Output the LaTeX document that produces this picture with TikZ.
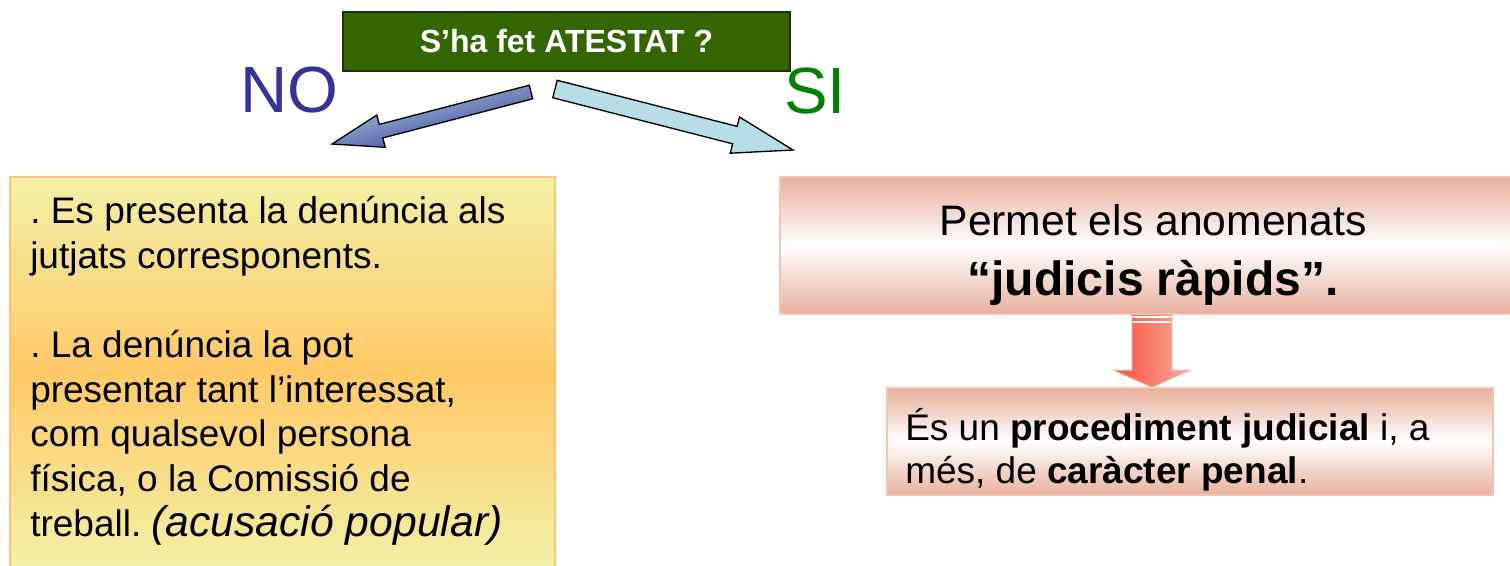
\documentclass[tikz,border=0pt]{standalone}
\usepackage{fontspec}
\setmainfont{Liberation Sans}
\usepackage{xcolor}
\usepackage{tikz}
\usetikzlibrary{calc}
\definecolor{qgreen}{HTML}{336600}
\definecolor{qedge}{HTML}{1F2E0F}
\definecolor{noblue}{HTML}{333399}
\definecolor{sigreen}{HTML}{008000}
\definecolor{pale}{HTML}{F3F0A7}
\definecolor{amber}{HTML}{FFC966}
\definecolor{amberedge}{HTML}{F9C47A}
\definecolor{salmon}{HTML}{E9B09D}
\definecolor{salmonedge}{HTML}{F2C4B4}
\definecolor{ice}{HTML}{B7DEE8}
\definecolor{navy}{HTML}{2E3192}
\definecolor{redhot}{HTML}{FF4D3A}
\definecolor{redsoft}{HTML}{F4B09E}
\tikzset{
  qbox/.style={draw=qedge, line width=1pt, fill=qgreen, text=white, inner sep=0pt,
    minimum width=335.25pt, minimum height=44.25pt, font=\fontsize{24}{28}\selectfont\bfseries},
  nobox/.style={draw=amberedge, line width=0.8pt, top color=pale, bottom color=pale, middle color=amber,
    minimum width=408.75pt, minimum height=292.5pt, inner sep=0pt},
  sibox/.style={draw=salmonedge, line width=0.8pt, top color=salmon, bottom color=salmon, middle color=white,
    inner sep=0pt},
  answer/.style={font=\fontsize{49}{56}\selectfont, inner sep=0pt},
  body/.style={font=\fontsize{27.75}{33.5}\selectfont, align=left, inner sep=0pt, anchor=north west},
  arrowno/.style={draw=black, line width=1pt, line join=miter, top color=ice, bottom color=navy, shading angle=15},
  arrowsi/.style={draw=black, line width=1pt, line join=miter, fill=ice},
  arrowdown/.style={draw=salmonedge, line width=0.6pt, left color=redhot, right color=redsoft},
}
% fat arrow: style, tail, tip, half shaft, half head, head length
\newcommand{\bigarrow}[6]{%
  \coordinate (hb) at ($(#3)!#6!(#2)$);
  \path[#1] ($(#2)!#4!90:(#3)$) -- ($(hb)!#4!90:(#3)$) -- ($(hb)!#5!90:(#3)$) -- (#3)
    -- ($(hb)!#5!-90:(#3)$) -- ($(hb)!#4!-90:(#3)$) -- ($(#2)!#4!-90:(#3)$) -- cycle;
}
\frenchspacing

\begin{document}
\begin{tikzpicture}[x=0.75pt, y=-0.75pt]
  \useasboundingbox (0,0) rectangle (1510,565);

  \node[qbox] (atestat) at (566.5,41.5) {S’ha fet ATESTAT ?};
  \node[answer, text=noblue, anchor=base] (no) at (289,112) {NO};
  \node[answer, text=sigreen, anchor=base] (si) at (815,113) {SI};

  % two branches
  \coordinate (notail) at (531,92);
  \coordinate (notip) at (332,144);
  \coordinate (sitail) at (555,89);
  \coordinate (sitip) at (793,150);
  \bigarrow{arrowno}{notail}{notip}{5.25pt}{12.5pt}{38pt}
  \bigarrow{arrowsi}{sitail}{sitip}{6.75pt}{14pt}{45pt}

  % NO: denuncia
  \node[nobox] (den) at (282.5,372) {};
  \node[body] (dentxt) at (30,196) {. Es presenta la denúncia als\\
    jutjats corresponents.\\[33.5pt]
    . La denúncia la pot\\
    presentar tant l’interessat,\\
    com qualsevol persona\\
    física, o la Comissió de\\
    treball. {\fontsize{32}{33.5}\selectfont\itshape (acusació popular)}};

  % SI: judici rapid
  \node[sibox, minimum width=549pt, minimum height=102.75pt] (perm) at (1146,245.5) {};
  \node[align=center, inner sep=0pt, anchor=north, font=\fontsize{32}{41}\selectfont] (permtxt) at (1153,204.5)
    {Permet els anomenats\\[3.5pt] {\fontsize{36}{41}\selectfont\bfseries “judicis ràpids”.}};
  \node[sibox, minimum width=454.5pt, minimum height=80.25pt] (proc) at (1190,441.5) {};
  \node[body, font=\fontsize{27.75}{32}\selectfont] (proctxt) at (905,408)
    {És un \textbf{procediment judicial} i, a\\ més, de \textbf{caràcter penal}.};

  \coordinate (downtail) at (perm.south -| 1152,0);
  \coordinate (downtip) at (proc.north -| 1152,0);
  \bigarrow{arrowdown}{downtail}{downtip}{15pt}{29pt}{13pt}
  \draw[white, line width=0.8pt] (1133,317) -- (1171,317) (1133,322) -- (1171,322);
\end{tikzpicture}
\end{document}
